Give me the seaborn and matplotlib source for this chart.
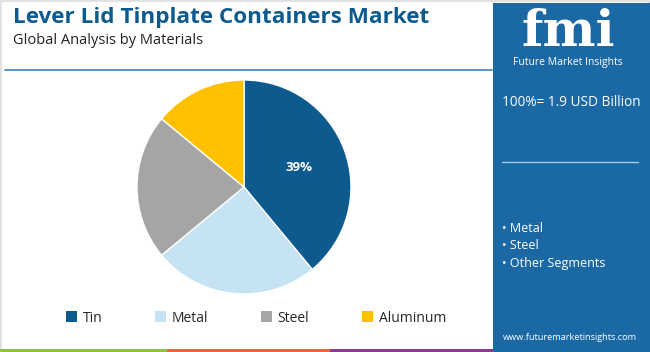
import matplotlib
matplotlib.use("Agg")
import matplotlib.pyplot as plt
import seaborn as sns
from matplotlib.patches import Rectangle, Patch
from matplotlib.lines import Line2D

# data
materials = ["Tin", "Metal", "Steel", "Aluminum"]
shares = [39, 25, 22, 14]
colors = ["#0d5a8f", "#c5e3f3", "#a5a5a5", "#ffc000"]
market_total = "100%= 1.9 USD Billion"
segments = ["Metal", "Steel", "Other Segments"]

sns.set_style("white")
plt.rcParams["font.family"] = ["Open Sans", "DejaVu Sans"]

W, H = 650, 352
fig = plt.figure(figsize=(W / 100, H / 100), dpi=100)
fig.patch.set_facecolor("white")


def fx(px):
    return px / W


def fy(py):
    return 1 - py / H


# light frame round the whole card
fig.add_artist(Rectangle((0.001, 0.002), 0.997, 0.995, transform=fig.transFigure,
                         fill=False, ec="#dddddd", lw=1.2))

# title block
fig.text(fx(13), fy(17), "Lever Lid Tinplate Containers Market", fontsize=16.2,
         fontweight="bold", color="#0d5a8f", va="center", ha="left")
fig.text(fx(13), fy(41), "Global Analysis by Materials", fontsize=10.5,
         color="#222222", va="center", ha="left")
fig.add_artist(Line2D([fx(5), fx(492)], [fy(70), fy(70)], transform=fig.transFigure,
                      color="#4a8fc4", lw=1.3))

# pie
cx, cy, r = 244, 187, 107
ax = fig.add_axes([fx(cx - r), fy(cy + r), (2 * r) / W, (2 * r) / H])
wedges, texts, autotexts = ax.pie(
    shares, colors=colors, startangle=90, counterclock=False,
    autopct=lambda p: f"{p:.0f}%" if p > 30 else "", pctdistance=0.55,
    textprops=dict(color="white", fontsize=9.5, fontweight="bold"),
)
ax.set_xlim(-1, 1)
ax.set_ylim(-1, 1)
ax.set_aspect("equal")
ax.axis("off")

# legend
handles = [Patch(facecolor=c, edgecolor="none") for c in colors]
fig.legend(handles, materials, loc="center", bbox_to_anchor=(fx(256), fy(318)),
           ncol=4, frameon=False, fontsize=10, handlelength=0.8, handleheight=0.8,
           handletextpad=0.4, columnspacing=3.8)

# bottom colour strip
strip = [("#8bc34a", 0, 167), ("#e2673a", 167, 330), ("#8e3a8e", 330, 494)]
for col, x0, x1 in strip:
    fig.add_artist(Rectangle((fx(x0), 0), fx(x1 - x0), 3 / H, transform=fig.transFigure,
                             color=col, lw=0))

# right panel
panel = "#1a68a4"
fig.add_artist(Rectangle((fx(493), fy(352)), fx(157), 349 / H, transform=fig.transFigure,
                         color=panel, lw=0))
fig.text(fx(568), fy(32), "fmi", fontsize=36, fontweight="bold", family="DejaVu Serif",
         color="white", ha="center", va="center")
for yy in range(17, 52, 3):
    fig.add_artist(Line2D([fx(512), fx(625)], [fy(yy), fy(yy)], transform=fig.transFigure,
                          color=panel, lw=0.7))
fig.text(fx(568), fy(62), "Future Market Insights", fontsize=7.5, color="white",
         ha="center", va="center")
fig.text(fx(502), fy(103), market_total, fontsize=9.8, color="white",
         ha="left", va="center")
fig.add_artist(Line2D([fx(502), fx(638)], [fy(162), fy(162)], transform=fig.transFigure,
                      color="#a9c9e3", lw=1))
for i, seg in enumerate(segments):
    fig.text(fx(502), fy(228 + 17.5 * i), "• " + seg, fontsize=9, color="white",
             ha="left", va="center")
fig.text(fx(570), fy(337), "www.futuremarketinsights.com", fontsize=6.6, color="white",
         ha="center", va="center")

fig.savefig("out.png", dpi=100)
